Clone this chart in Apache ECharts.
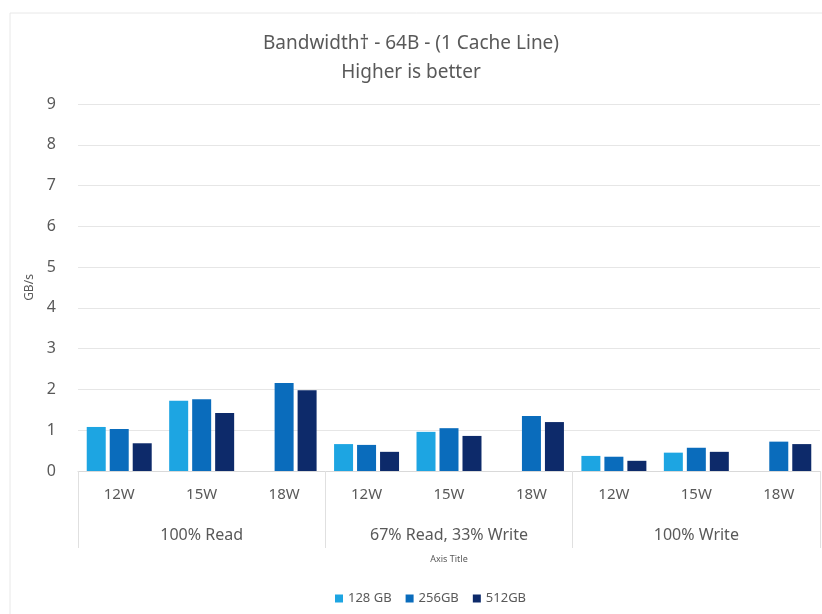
<!DOCTYPE html>
<html>
<head>
<meta charset="utf-8">
<script src="https://cdn.jsdelivr.net/npm/echarts@6/dist/echarts.min.js"></script>
<style>
	html, body { margin: 0; padding: 0; background: #fff; }
	#main { width: 822px; height: 614px; }
</style>
</head>
<body>
<div id="main"></div>
<script>
// data
var wattages = ['12W', '15W', '18W', '12W', '15W', '18W', '12W', '15W', '18W'];
var workloads = ['100% Read', '67% Read, 33% Write', '100% Write'];
var yTicks = [0, 9, 1];
var gb128 = [1.08, 1.72, null, 0.66, 0.96, null, 0.37, 0.45, null];
var gb256 = [1.03, 1.76, 2.16, 0.64, 1.05, 1.35, 0.35, 0.57, 0.72];
var gb512 = [0.68, 1.42, 1.98, 0.47, 0.86, 1.20, 0.25, 0.47, 0.66];

var txt = '#595959';
var font = 'Noto Sans';

var myChart = echarts.init(document.getElementById('main'));

function bar(name, data, color) {
	return {
		name: name,
		type: 'bar',
		data: data,
		barWidth: 19,
		barGap: '21%',
		itemStyle: { color: color }
	};
}

var option = {
	backgroundColor: '#fff',
	textStyle: { fontFamily: font },
	graphic: [{
		type: 'rect',
		shape: { x: 10, y: 13, width: 830, height: 620 },
		style: { fill: 'none', stroke: '#e8e8e8', lineWidth: 1 },
		silent: true
	}],
	title: {
		text: 'Bandwidth† - 64B - (1 Cache Line)\nHigher is better',
		left: 'center',
		top: 24,
		textStyle: { color: txt, fontSize: 19, fontWeight: 'normal', lineHeight: 29, fontFamily: font }
	},
	legend: {
		bottom: 4,
		left: 330,
		itemWidth: 8,
		itemHeight: 8,
		itemGap: 14,
		icon: 'rect',
		textStyle: { color: txt, fontSize: 13 },
		data: ['128 GB', '256GB', '512GB']
	},
	grid: { left: 78, right: 2, top: 104, bottom: 143 },
	xAxis: [{
		type: 'category',
		data: wattages,
		axisLine: { lineStyle: { color: '#d9d9d9' } },
		axisTick: { show: false },
		axisLabel: { color: txt, fontSize: 15, margin: 16 }
	}, {
		type: 'category',
		data: workloads,
		position: 'bottom',
		axisLine: { show: false },
		axisTick: { show: true, length: 77, lineStyle: { color: '#e0e0e0' } },
		axisLabel: { color: txt, fontSize: 16, margin: 56 },
		name: 'Axis Title',
		nameLocation: 'middle',
		nameGap: 84,
		nameTextStyle: { color: txt, fontSize: 9 }
	}],
	yAxis: {
		type: 'value',
		min: yTicks[0],
		max: yTicks[1],
		interval: yTicks[2],
		name: 'GB/s',
		nameLocation: 'middle',
		nameGap: 40,
		nameTextStyle: { color: txt, fontSize: 12 },
		axisLine: { show: false },
		axisTick: { show: false },
		axisLabel: { color: txt, fontSize: 16, margin: 22 },
		splitLine: { lineStyle: { color: '#e6e6e6' } }
	},
	series: [
		bar('128 GB', gb128, '#1da5e2'),
		bar('256GB', gb256, '#0a6cbc'),
		bar('512GB', gb512, '#0d2a6a')
	]
};

myChart.setOption(option);
</script>
</body>
</html>
